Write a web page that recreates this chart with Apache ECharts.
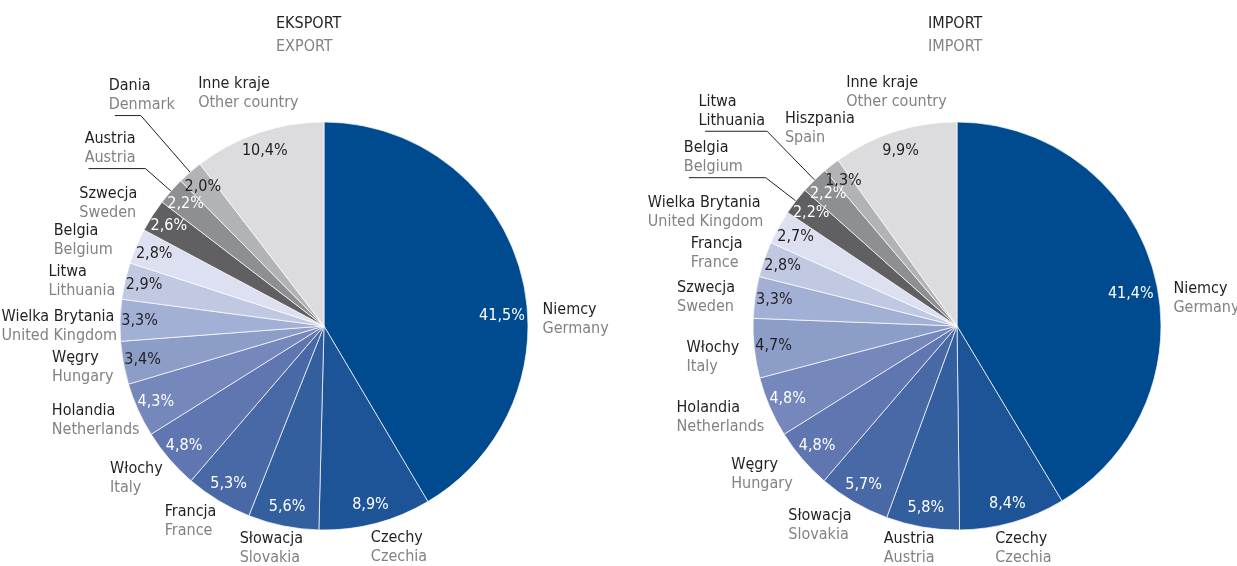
<!DOCTYPE html>
<html><head><meta charset="utf-8">
<script src="https://cdn.jsdelivr.net/npm/echarts@6/dist/echarts.min.js"></script>
<style>html,body{margin:0;padding:0;background:#fff}#c{width:1237px;height:566px}</style>
</head><body><div id="c"></div>
<script>
// ---------- DATA ----------
const exportNamesPl = ['Niemcy','Czechy','Słowacja','Francja','Włochy','Holandia','Węgry','Wielka Brytania','Litwa','Belgia','Szwecja','Austria','Dania','Inne kraje'];
const exportNamesEn = ['Germany','Czechia','Slovakia','France','Italy','Netherlands','Hungary','United Kingdom','Lithuania','Belgium','Sweden','Austria','Denmark','Other country'];
const exportValues  = [41.5, 8.9, 5.6, 5.3, 4.8, 4.3, 3.4, 3.3, 2.9, 2.8, 2.6, 2.2, 2.0, 10.4];

const importNamesPl = ['Niemcy','Czechy','Austria','Słowacja','Węgry','Holandia','Włochy','Szwecja','Francja','Wielka Brytania','Belgia','Litwa','Hiszpania','Inne kraje'];
const importNamesEn = ['Germany','Czechia','Austria','Slovakia','Hungary','Netherlands','Italy','Sweden','France','United Kingdom','Belgium','Lithuania','Spain','Other country'];
const importValues  = [41.4, 8.4, 5.8, 5.7, 4.8, 4.8, 4.7, 3.3, 2.8, 2.7, 2.2, 2.2, 1.3, 9.9];

const titlesPl = ['EKSPORT', 'IMPORT'];
const titlesEn = ['EXPORT', 'IMPORT'];

// ---------- STYLE ----------
function pickFont(){
  const ctx = document.createElement('canvas').getContext('2d');
  const cands = ['Liberation Sans Narrow','Noto Sans ExtraCondensed','Noto Sans Condensed','Noto Sans SemiCondensed','DejaVu Sans Condensed'];
  const test = 'Niemcy Germany 41,5% Wielka';
  for (const f of cands){
    ctx.font = '18px monospace'; const w0 = ctx.measureText(test).width;
    ctx.font = '18px "' + f + '", monospace'; const w1 = ctx.measureText(test).width;
    if (Math.abs(w1 - w0) > 0.5) return f;
  }
  return 'DejaVu Sans Condensed';
}
const FONT_NAME = pickFont();
const FONT = '"' + FONT_NAME + '",sans-serif';
const FS = (function(){
  const ctx = document.createElement('canvas').getContext('2d');
  ctx.font = '18px ' + FONT;
  const w = ctx.measureText('Niemcy').width;   // reference width ~49px
  return Math.max(16, Math.min(18, Math.round(18 * 49 / w * 2) / 2));
})();

const sliceColors = ['#004a8f','#1d5497','#345f9f','#4869a5','#5f76b0','#7587bb','#8c9dc8','#a3b0d5','#c1c9e2','#dce0f0','#606063','#8e8f92','#b2b3b6','#dcdcde'];
const pctWhite = [true,true,true,true,true,true,false,false,false,false,true,true,false,false];
const DARK = '#231f20', GREY = '#808285';
const R_OUT = 204, R_RING = 159;

// label layout tweaks (offsets from library-computed position)
const exportNameShift = [[12,49],[-10,18],[25,17],[5,16],[2,15],[11,8],[0,3],[7,6],[0,2],[-14,-3],[-6,-9],null,null,[46,-34]];
const importNameShift = [[10,28],[-23,20],[17,15],[5,18],[-1,11],[4,8],[-5,8],[-10,1],[-12,-4],[-6,-12],null,null,[31,-32],[58,-34]];
const exportLeaders = {11:{length:34,length2:57,dist:-47}, 12:{length:75,length2:26,dist:-60}};
const importLeaders = {10:{length:38,length2:77,dist:-54}, 11:{length:68,length2:62,dist:-60}};
const importEnDark = {11:true};
const exportPctShift = {0:[0,39]};
const importPctShift = {0:[-4,17]};

function pct(v){ return v.toFixed(1).replace('.', ',') + '%'; }

function buildSeries(center, namesPl, namesEn, values, leaders, enDark, nameShift, pctShift){
  const nameData = values.map((v,i)=>{
    const item = {value:v, name:namesPl[i], itemStyle:{color:sliceColors[i]}};
    const en = enDark[i] ? '{a|'+namesEn[i]+'}' : '{b|'+namesEn[i]+'}';
    item.label = {formatter:'{a|'+namesPl[i]+'}\n'+en};
    const L = leaders[i];
    if (L){
      item.labelLine = {show:true, length:L.length, length2:L.length2};
      item.label.distanceToLabelLine = L.dist;
      item.label.padding = [0,0,40,0];
    }
    return item;
  });
  const pctData = values.map((v,i)=>({
    value:v, name:namesPl[i],
    label:{color: pctWhite[i] ? '#ffffff' : DARK}
  }));
  return [
    {
      type:'pie', center:center, radius:[0,R_OUT], startAngle:90, clockwise:true,
      avoidLabelOverlap:false, animation:false, silent:true,
      itemStyle:{borderColor:'#ffffff', borderWidth:0.7},
      label:{show:true, position:'outside', distanceToLabelLine:4, bleedMargin:0,
        rich:{
          a:{color:DARK, fontFamily:FONT, fontSize:FS, lineHeight:19, align:'left'},
          b:{color:GREY, fontFamily:FONT, fontSize:FS, lineHeight:19, align:'left'}
        }},
      labelLine:{show:false, length:6, length2:0, lineStyle:{color:DARK, width:1}},
      labelLayout:function(p){ const s = nameShift[p.dataIndex]; return s ? {dx:s[0], dy:s[1]} : {}; },
      emphasis:{disabled:true},
      data:nameData
    },
    {
      type:'pie', center:center, radius:[R_RING,R_OUT], startAngle:90, clockwise:true,
      avoidLabelOverlap:false, animation:false, silent:true, z:5,
      itemStyle:{color:'rgba(0,0,0,0)', borderWidth:0},
      label:{show:true, position:'inside', fontFamily:FONT, fontSize:FS,
        formatter:function(p){ return pct(p.value); }},
      labelLine:{show:false},
      labelLayout:function(p){ const s = pctShift[p.dataIndex]; return s ? {dx:s[0], dy:s[1]} : {}; },
      emphasis:{disabled:true},
      data:pctData
    }
  ];
}

const chart = echarts.init(document.getElementById('c'), null, {renderer:'canvas'});
chart.setOption({
  backgroundColor:'#ffffff',
  animation:false,
  title:[
    {text:titlesPl[0], subtext:titlesEn[0], left:271, top:11, itemGap:7,
      textStyle:{fontFamily:FONT, fontSize:FS, fontWeight:'normal', color:DARK},
      subtextStyle:{fontFamily:FONT, fontSize:FS, color:GREY}},
    {text:titlesPl[1], subtext:titlesEn[1], left:923, top:11, itemGap:7,
      textStyle:{fontFamily:FONT, fontSize:FS, fontWeight:'normal', color:DARK},
      subtextStyle:{fontFamily:FONT, fontSize:FS, color:GREY}}
  ],
  series:[].concat(
    buildSeries([324,326], exportNamesPl, exportNamesEn, exportValues, exportLeaders, {}, exportNameShift, exportPctShift),
    buildSeries([957,326], importNamesPl, importNamesEn, importValues, importLeaders, importEnDark, importNameShift, importPctShift)
  )
});
</script>
</body></html>
